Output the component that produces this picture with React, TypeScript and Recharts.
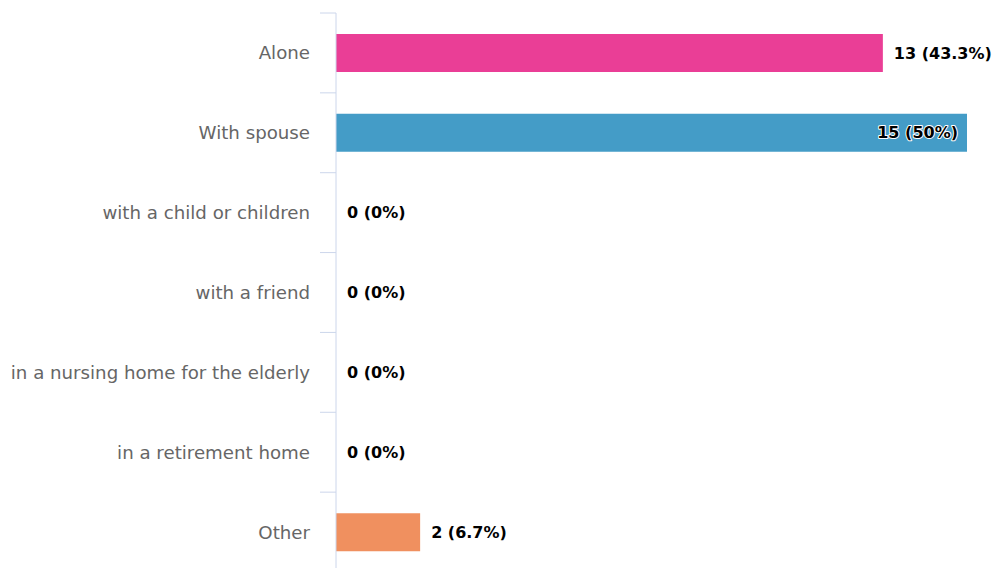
import React from "react";
import { BarChart, Bar, XAxis, YAxis, Cell, LabelList } from "recharts";

const categories = [
  "Alone",
  "With spouse",
  "with a child or children",
  "with a friend",
  "in a nursing home for the elderly",
  "in a retirement home",
  "Other",
];
const counts = [13, 15, 0, 0, 0, 0, 2];
const barColors = ["#ea3e96", "#449cc7", "#7cb5ec", "#90ed7d", "#f7a35c", "#8085e9", "#f0905f"];

const CHART_W = 996;
const CHART_H = 580;
const MARGIN = { top: 13, right: 29, bottom: 8, left: 0 };
const PLOT_H = CHART_H - MARGIN.top - MARGIN.bottom;
const AXIS_W = 336;
const FONT = "'DejaVu Sans', Verdana, sans-serif";
const AXIS_COLOR = "#ccd6eb";

const total = counts.reduce((a, b) => a + b, 0);
const data = categories.map((name, i) => ({
  name,
  value: counts[i],
  label: `${counts[i]} (${Math.round((counts[i] / total) * 1000) / 10}%)`,
}));

const CategoryTick = (props: any) => {
  const { x, y, payload, index } = props;
  const half = PLOT_H / categories.length / 2;
  return (
    <g>
      <line x1={x - 16} x2={x} y1={y - half} y2={y - half} stroke={AXIS_COLOR} strokeWidth={1} />
      {index === categories.length - 1 && (
        <line x1={x - 16} x2={x} y1={y + half} y2={y + half} stroke={AXIS_COLOR} strokeWidth={1} />
      )}
      <text
        x={x - 26}
        y={y}
        textAnchor="end"
        dominantBaseline="central"
        fill="#666666"
        fontFamily={FONT}
        fontSize={18.2}
      >
        {payload.value}
      </text>
    </g>
  );
};

const DataLabel = (props: any) => {
  const { x, y, width, height, value } = props;
  const text = String(value);
  const w = Math.max(0, Number(width) || 0);
  const estW = text.length * 9.8;
  const end = x + w;
  const inside = end + 11 + estW > CHART_W;
  return (
    <text
      x={inside ? end - 9 : end + 11}
      y={y + height / 2}
      textAnchor={inside ? "end" : "start"}
      dominantBaseline="central"
      fill="#000000"
      stroke="#ffffff"
      strokeWidth={2}
      strokeLinejoin="round"
      paintOrder="stroke"
      fontFamily={FONT}
      fontWeight="bold"
      fontSize={16}
    >
      {text}
    </text>
  );
};

export default function App() {
  return (
    <div
      style={{
        position: "absolute",
        left: 0,
        top: 0,
        width: 996,
        height: 568,
        overflow: "hidden",
        background: "#ffffff",
      }}
    >
      <BarChart
        width={CHART_W}
        height={CHART_H}
        data={data}
        layout="vertical"
        margin={MARGIN}
      >
        <XAxis type="number" domain={[0, 15]} hide />
        <YAxis
          type="category"
          dataKey="name"
          width={AXIS_W}
          axisLine={{ stroke: AXIS_COLOR, strokeWidth: 1 }}
          tickLine={false}
          tickSize={0}
          tickMargin={0}
          interval={0}
          tick={<CategoryTick />}
        />
        <Bar dataKey="value" barSize={38} minPointSize={0.01} isAnimationActive={false}>
          {data.map((d, i) => (
            <Cell key={d.name} fill={barColors[i]} />
          ))}
          <LabelList dataKey="label" content={<DataLabel />} />
        </Bar>
      </BarChart>
    </div>
  );
}
